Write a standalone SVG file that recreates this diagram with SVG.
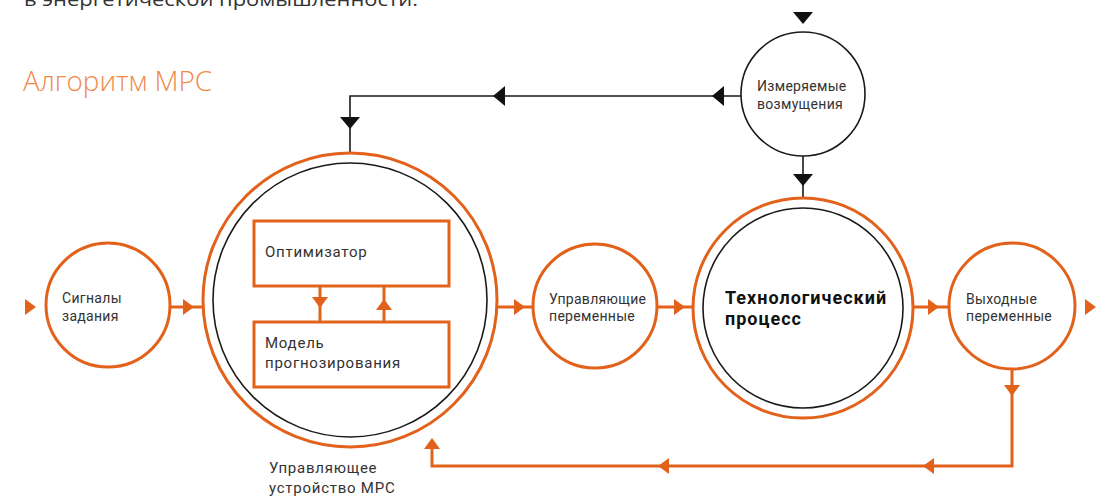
<svg xmlns="http://www.w3.org/2000/svg" width="1110" height="499" viewBox="0 0 1110 499">
<style>
.o{fill:none;stroke:#e2621b;stroke-width:3}
.oi{fill:#fff;stroke:#e2621b;stroke-width:3}
.k{fill:none;stroke:#1a1a1a;stroke-width:1.6}
.ki{fill:#fff;stroke:#1a1a1a;stroke-width:1.6}
.oa{fill:#e2621b}
.ka{fill:#111}
.t{font-family:Roboto,"Noto Sans","DejaVu Sans",sans-serif;font-size:14px;fill:#333;letter-spacing:0.3px}
.tm{font-family:Roboto,"Noto Sans","DejaVu Sans",sans-serif;font-size:15px;fill:#333;letter-spacing:0.75px}
.tb{font-family:Roboto,"Noto Sans","DejaVu Sans",sans-serif;font-size:18px;font-weight:bold;fill:#111;letter-spacing:1px}
</style>
<defs>
<path id="ot" d="M-5,-8 L6,0 L-5,8 Z"/>
<path id="kt" d="M-6,-10 L6,0 L-6,10 Z"/>
</defs>
<rect width="1110" height="499" fill="#fff"/>
<text x="24" y="6" font-family="'Open Sans',sans-serif" font-size="19" fill="#333" textLength="394" lengthAdjust="spacingAndGlyphs">в энергетической промышленности.</text>
<text x="23" y="91" font-family="'Open Sans',sans-serif" font-weight="300" font-size="28" fill="#ef8a4c" textLength="189" lengthAdjust="spacingAndGlyphs">Алгоритм MPC</text>

<g id="connectors">
  <polyline class="k" points="741,96 350,96 350,152"/>
  <line class="k" x1="803" y1="156" x2="803" y2="198"/>
  <use href="#kt" class="ka" transform="translate(718,96) rotate(180)"/>
  <use href="#kt" class="ka" transform="translate(499,96) rotate(180)"/>
  <use href="#kt" class="ka" transform="translate(350,123) rotate(90)"/>
  <use href="#kt" class="ka" transform="translate(803,180) rotate(90)"/>
  <use href="#kt" class="ka" transform="translate(803,18) rotate(90)"/>
  <use href="#ot" class="oa" transform="translate(30,307)"/>
  <line class="o" x1="171" y1="307" x2="203" y2="307"/>
  <use href="#ot" class="oa" transform="translate(188,307)"/>
  <line class="o" x1="497" y1="307" x2="533" y2="307"/>
  <use href="#ot" class="oa" transform="translate(519,307)"/>
  <line class="o" x1="657" y1="307" x2="693" y2="307"/>
  <use href="#ot" class="oa" transform="translate(679,307)"/>
  <line class="o" x1="913" y1="307" x2="948" y2="307"/>
  <use href="#ot" class="oa" transform="translate(933,307)"/>
  <use href="#ot" class="oa" transform="translate(1090,307)"/>
  <polyline class="o" points="1012,368 1012,466 432,466 432,446"/>
  <use href="#ot" class="oa" transform="translate(1012,390) rotate(90)"/>
  <use href="#ot" class="oa" transform="translate(929,466) rotate(180)"/>
  <use href="#ot" class="oa" transform="translate(664,466) rotate(180)"/>
  <use href="#ot" class="oa" transform="translate(432,444) rotate(-90)"/>
  <line class="o" x1="320" y1="286" x2="320" y2="322"/>
  <use href="#ot" class="oa" transform="translate(320,302) rotate(90)"/>
  <line class="o" x1="384" y1="286" x2="384" y2="322"/>
  <use href="#ot" class="oa" transform="translate(384,305) rotate(-90)"/>
</g>

<g id="signals">
  <circle class="oi" cx="108" cy="305" r="62"/>
  <text class="t" x="62" y="303">Сигналы</text>
  <text class="t" x="62" y="321">задания</text>
</g>

<g id="mpc">
  <circle class="o" cx="350" cy="300" r="147"/>
  <circle class="k" cx="350" cy="300" r="137"/>
  <text class="tm" x="269" y="473">Управляющее</text>
  <text class="tm" x="269" y="493">устройство MPC</text>
</g>
<g id="optimizer">
  <rect class="oi" x="254" y="221" width="195" height="65"/>
  <text class="tm" x="265" y="257">Оптимизатор</text>
</g>
<g id="model">
  <rect class="oi" x="254" y="322" width="195" height="65"/>
  <text class="tm" x="265" y="348">Модель</text>
  <text class="tm" x="265" y="368">прогнозирования</text>
</g>

<g id="control">
  <circle class="oi" cx="595" cy="306" r="62"/>
  <text class="t" x="549" y="304">Управляющие</text>
  <text class="t" x="549" y="321">переменные</text>
</g>

<g id="disturbances">
  <circle class="ki" cx="803" cy="94" r="62"/>
  <text class="t" x="757" y="91">Измеряемые</text>
  <text class="t" x="757" y="109">возмущения</text>
</g>

<g id="process">
  <circle class="oi" cx="803" cy="308" r="110"/>
  <circle class="k" cx="803" cy="308" r="100"/>
  <text class="tb" x="725" y="304">Технологический</text>
  <text class="tb" x="725" y="325">процесс</text>
</g>

<g id="outputs">
  <circle class="oi" cx="1012" cy="306" r="63"/>
  <text class="t" x="966" y="304">Выходные</text>
  <text class="t" x="966" y="321">переменные</text>
</g>
</svg>
